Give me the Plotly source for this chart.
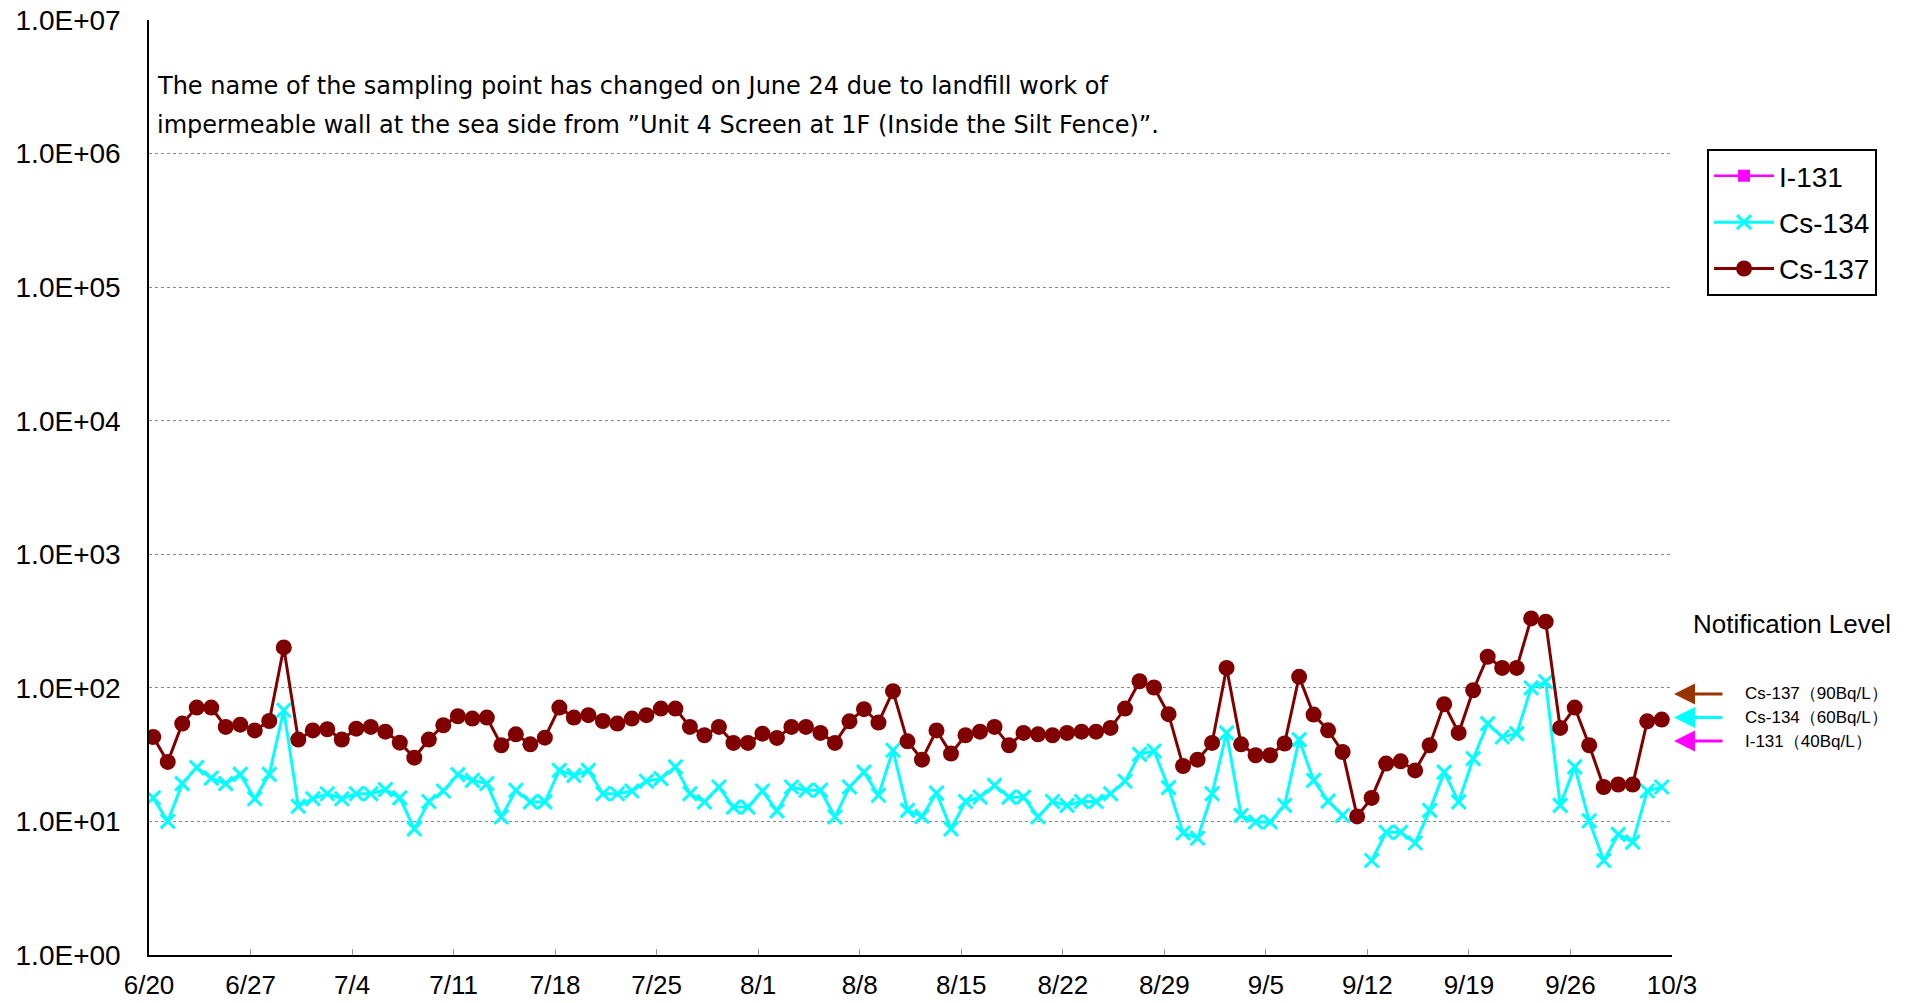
import math
import pandas as pd
import plotly.graph_objects as go

# ---- data ----
dates = pd.date_range("2015-06-20 07:00", periods=105, freq="D")

cs137 = [42.9, 27.9, 54, 71.2, 71.2, 51, 53, 48, 56.5, 200.7,
         41, 48, 49, 41, 49.5, 51, 47, 38.9, 30, 41,
         52.5, 61.3, 58.9, 59.9, 37.2, 44.9, 37.8, 42.4, 71.2, 59.9,
         62.4, 56.5, 54, 58.9, 62.4, 70, 70, 51, 44.2, 51,
         38.7, 38.7, 45.4, 42.2, 51, 51, 46, 38.7, 56.2, 69.2,
         55, 94.4, 39.8, 29, 48, 32.2, 44.2, 47, 51, 37.2,
         46, 44.9, 44.2, 46, 47, 47, 50.1, 70, 112, 100.6,
         63.5, 26, 29, 38.7, 141, 37.8, 31.3, 31.3, 38.3, 121,
         63.1, 48.1, 33.1, 10.9, 15, 27.1, 28.2, 24.1, 37.2, 75.4,
         46, 96, 171, 141, 141, 331, 313, 50.1, 71.2, 37.2,
         18.1, 18.9, 18.9, 56.2, 57.9]

cs134 = [15, 10, 19.2, 25.3, 21.1, 19.2, 22.5, 14.8, 22.5, 68,
         13, 14.8, 16.1, 14.8, 16.1, 16.1, 17.3, 15, 8.8, 14.1,
         16.9, 22.4, 20.3, 19.2, 10.8, 17.1, 14, 14, 24.1, 22.1,
         24.1, 16.1, 16.1, 16.9, 20, 20.9, 25.6, 16.1, 14, 18.1,
         12.8, 12.8, 16.9, 12, 18.1, 17.1, 17.1, 10.8, 18.1, 23.4,
         15.7, 34.1, 12.1, 10.9, 16.3, 8.8, 14.1, 15.2, 18.6, 15.2,
         15.2, 10.8, 14.1, 13.2, 14.1, 14.1, 16.1, 20, 31.8, 33.7,
         17.9, 8.2, 7.5, 16.1, 46, 11.1, 9.9, 9.9, 13.2, 41,
         20.3, 14.2, 11.1, None, 5.1, 8.3, 8.3, 6.9, 12.1, 23.4,
         14, 29.5, 54, 42.9, 45.4, 100, 111, 13.2, 25.6, 10.1,
         5.1, 8, 7, 16.9, 18.1]

i131 = [None] * len(dates)

y_tickvals = [1, 10, 100, 1000, 10000, 100000, 1000000, 10000000]
y_ticktext = ["1.0E+00", "1.0E+01", "1.0E+02", "1.0E+03",
              "1.0E+04", "1.0E+05", "1.0E+06", "1.0E+07"]

notif_names = ["Cs-137（90Bq/L）", "Cs-134（60Bq/L）", "I-131（40Bq/L）"]
notif_levels = [90, 60, 40]
notif_colors = ["#993300", "#00FFFF", "#FF00FF"]

note_lines = [
    "The name of the sampling point has changed on June 24 due to landfill work of",
    "impermeable wall at the sea side from \u201dUnit 4 Screen at 1F (Inside the Silt Fence)\u201d.",
]

# ---- figure ----
fig = go.Figure()
fig.add_trace(go.Scatter(
    x=dates, y=i131, name="I-131", mode="lines+markers", legendgroup="a",
    line=dict(color="#FF00FF", width=2.5),
    marker=dict(symbol="square", size=12, color="#FF00FF")))
fig.add_trace(go.Scatter(
    x=dates, y=cs134, name="Cs-134", mode="lines+markers", legendgroup="b",
    line=dict(color="#00FFFF", width=3),
    marker=dict(symbol="x-thin", size=14, color="#00FFFF",
                line=dict(color="#00FFFF", width=3))))
fig.add_trace(go.Scatter(
    x=dates, y=cs137, name="Cs-137", mode="lines+markers", legendgroup="c",
    line=dict(color="#800000", width=3),
    marker=dict(symbol="circle", size=16, color="#800000")))

font_main = "Arial, Liberation Sans, sans-serif"

fig.update_layout(
    width=1914, height=1003,
    margin=dict(l=149, r=242, t=20, b=48, autoexpand=False),
    paper_bgcolor="white", plot_bgcolor="white",
    font=dict(family=font_main, color="black"),
    showlegend=True,
    legend=dict(x=1.023, y=0.862, xanchor="left", yanchor="top",
                bordercolor="black", borderwidth=2, bgcolor="white",
                font=dict(size=28, family=font_main),
                traceorder="grouped", tracegroupgap=7, itemwidth=60),
)

fig.update_xaxes(
    type="date", range=["2015-06-20", "2015-10-03"],
    tick0="2015-06-20", dtick=7 * 86400000, tickformat="%-m/%-d",
    showgrid=False, zeroline=False, automargin=False,
    showline=True, linecolor="black", linewidth=1.5,
    ticks="inside", ticklen=6, tickcolor="#999999", tickwidth=1,
    tickfont=dict(size=26, family=font_main),
    ticklabelstandoff=6,
)
fig.update_yaxes(
    type="log", range=[0, 7], automargin=False,
    tickvals=y_tickvals, ticktext=y_ticktext,
    showgrid=True, gridcolor="#888888", griddash="dot", gridwidth=1,
    zeroline=False, showline=True, linecolor="black", linewidth=1.5,
    ticks="", tickfont=dict(size=28, family=font_main),
    ticklabelstandoff=21,
)

# note text
for txt, yp in zip(note_lines, [0.929, 0.888]):
    fig.add_annotation(x=0.004, y=yp, xref="paper", yref="paper",
                       xanchor="left", yanchor="middle", showarrow=False,
                       text=txt, font=dict(size=24, family="DejaVu Sans"))

# notification level
fig.add_annotation(x=1.0125, y=0.354, xref="paper", yref="paper",
                   xanchor="left", yanchor="middle", showarrow=False,
                   text="Notification Level", font=dict(size=26, family=font_main))
for name, lvl, col in zip(notif_names, notif_levels, notif_colors):
    fig.add_annotation(x=1.0013, y=math.log10(lvl), xref="paper", yref="y",
                       ax=50, ay=0, axref="pixel", ayref="pixel",
                       showarrow=True, arrowhead=2, arrowsize=1.4, arrowwidth=3,
                       arrowcolor=col, text="")
    fig.add_annotation(x=1.0466, y=math.log10(lvl), xref="paper", yref="y",
                       xanchor="left", yanchor="middle", showarrow=False,
                       text=name, font=dict(size=17, family=font_main))

fig.write_html(
    "out.html",
    config={"displayModeBar": False},
    post_script="document.body.style.margin='0';document.body.style.padding='0';",
)
